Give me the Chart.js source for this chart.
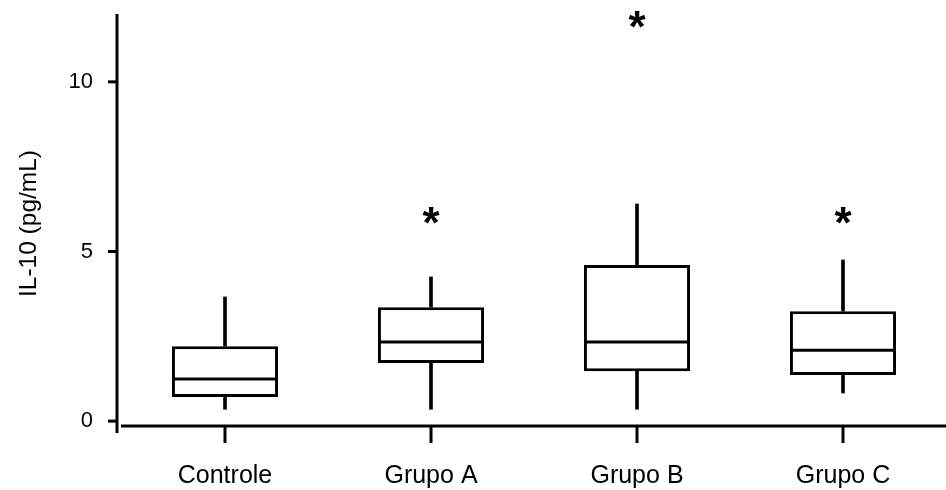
<!DOCTYPE html>
<html>
<head>
<meta charset="utf-8">
<script src="https://cdn.jsdelivr.net/npm/chart.js@4"></script>
<style>
    html, body { margin: 0; padding: 0; background: #fff; }
    #wrap { width: 946px; height: 490px; }
</style>
</head>
<body>
<div id="wrap"><canvas id="il10Chart"></canvas></div>
<script>
// datos (IL-10, pg/mL)
const grupos = ["Controle", "Grupo A", "Grupo B", "Grupo C"];
const minimos = [0.35, 0.35, 0.35, 0.83];
const q1 = [0.71, 1.71, 1.47, 1.36];
const medianas = [1.24, 2.33, 2.33, 2.09];
const q3 = [2.21, 3.36, 4.6, 3.24];
const maximos = [3.66, 4.25, 6.4, 4.75];
// posicion de los asteriscos (null = sin asterisco)
const asteriscos = [null, 6.05, 11.83, 6.05];
const ticksY = [0, 5, 10];

const fuente = "'Liberation Sans', Arial, Helvetica, sans-serif";

// dibuja ejes separados, medianas y asteriscos
const extrasPlugin = {
    id: "extras",
    afterDatasetsDraw(chart) {
        const ctx = chart.ctx;
        const area = chart.chartArea;
        const x = chart.scales.x;
        const y = chart.scales.y;
        ctx.save();
        ctx.strokeStyle = "#000";
        ctx.lineWidth = 3;
        ctx.lineCap = "butt";

        // eje Y
        const ejeX = area.left - 5;
        ctx.beginPath();
        ctx.moveTo(ejeX, area.top);
        ctx.lineTo(ejeX, area.bottom);
        ctx.stroke();
        ticksY.forEach((v) => {
            const py = y.getPixelForValue(v);
            ctx.beginPath();
            ctx.moveTo(ejeX - 9, py);
            ctx.lineTo(ejeX, py);
            ctx.stroke();
        });

        // eje X
        const ejeY = area.bottom - 7;
        ctx.beginPath();
        ctx.moveTo(area.left - 1, ejeY);
        ctx.lineTo(area.right, ejeY);
        ctx.stroke();
        grupos.forEach((g, i) => {
            const px = x.getPixelForValue(i);
            ctx.beginPath();
            ctx.moveTo(px, ejeY);
            ctx.lineTo(px, ejeY + 17);
            ctx.stroke();
        });

        // medianas dentro de las cajas
        const cajas = chart.getDatasetMeta(0).data;
        medianas.forEach((m, i) => {
            const bar = cajas[i];
            const py = y.getPixelForValue(m);
            ctx.beginPath();
            ctx.moveTo(bar.x - bar.width / 2 + 1, py);
            ctx.lineTo(bar.x + bar.width / 2 - 1, py);
            ctx.stroke();
        });

        // asteriscos
        ctx.fillStyle = "#000";
        ctx.font = "bold 44px " + fuente;
        ctx.textAlign = "center";
        ctx.textBaseline = "alphabetic";
        const m = ctx.measureText("*");
        const alto = m.actualBoundingBoxAscent + m.actualBoundingBoxDescent;
        asteriscos.forEach((v, i) => {
            if (v === null) return;
            const px = x.getPixelForValue(i);
            const py = y.getPixelForValue(v);
            ctx.fillText("*", px, py + m.actualBoundingBoxAscent - alto / 2);
        });
        ctx.restore();
    },
};

document.addEventListener("DOMContentLoaded", () => {
    const ctx = document.getElementById("il10Chart");

    const datos = {
        type: "bar",
        data: {
            labels: grupos,
            datasets: [
                {
                    label: "caja",
                    data: grupos.map((g, i) => [q1[i], q3[i]]),
                    backgroundColor: "#fff",
                    borderColor: "#000",
                    borderWidth: 3,
                    borderSkipped: false,
                    barPercentage: 0.515,
                    categoryPercentage: 1,
                },
                {
                    label: "bigote inferior",
                    data: grupos.map((g, i) => [minimos[i], q1[i]]),
                    backgroundColor: "#000",
                    borderWidth: 0,
                    barThickness: 3,
                },
                {
                    label: "bigote superior",
                    data: grupos.map((g, i) => [q3[i], maximos[i]]),
                    backgroundColor: "#000",
                    borderWidth: 0,
                    barThickness: 3,
                },
            ],
        },
        options: {
            responsive: true,
            maintainAspectRatio: false,
            animation: false,
            grouped: false,
            layout: {
                padding: { top: 14, right: 0, left: 0, bottom: 0 },
            },
            plugins: {
                legend: { display: false },
                tooltip: { enabled: false },
            },
            scales: {
                x: {
                    offset: true,
                    grid: { display: false },
                    border: { display: false },
                    ticks: {
                        color: "#000",
                        font: { family: fuente, size: 25 },
                        padding: 20,
                    },
                    afterFit: (scale) => {
                        scale.height = 57;
                        scale.paddingLeft = 0;
                        scale.paddingRight = 0;
                    },
                },
                y: {
                    min: -0.35,
                    max: 12,
                    grid: { display: false },
                    border: { display: false },
                    afterBuildTicks: (scale) => {
                        scale.ticks = ticksY.map((v) => ({ value: v }));
                    },
                    ticks: {
                        color: "#000",
                        font: { family: fuente, size: 22 },
                        padding: 21,
                    },
                    title: {
                        display: true,
                        text: "IL-10 (pg/mL)",
                        color: "#000",
                        font: { family: fuente, size: 24.5 },
                        padding: { top: 15, bottom: 0 },
                    },
                    afterFit: (scale) => {
                        scale.width = 122;
                        scale.paddingTop = 0;
                        scale.paddingBottom = 0;
                    },
                },
            },
        },
        plugins: [extrasPlugin],
    };

    new Chart(ctx, datos);
});
</script>
</body>
</html>
